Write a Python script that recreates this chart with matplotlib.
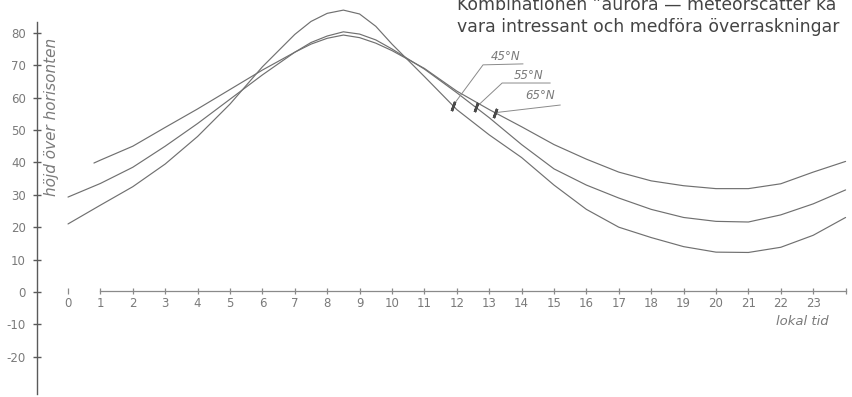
import numpy as np
import matplotlib
matplotlib.use('Agg')
import matplotlib.pyplot as plt

# local time (h) and elevation above horizon (deg)
hours_45 = [0, 1, 2, 3, 4, 5, 6, 7, 7.5, 8, 8.5, 9, 9.5, 10, 11, 12, 13, 14,
            15, 16, 17, 18, 19, 20, 21, 22, 23, 24]
elev_45 = [21, 26.8, 32.5, 39.5, 48, 58, 69.5, 79.5, 83.5, 86, 87, 85.8, 82,
           76.5, 66.5, 56.3, 48.5, 41.5, 33, 25.5, 20, 16.8, 14, 12.3, 12.2,
           13.8, 17.5, 23]

hours_55 = [0, 1, 2, 3, 4, 5, 6, 7, 7.5, 8, 8.5, 9, 9.5, 10, 11, 12, 13, 14,
            15, 16, 17, 18, 19, 20, 21, 22, 23, 24]
elev_55 = [29.3, 33.5, 38.5, 45, 52, 59.5, 67, 74, 77, 79, 80.3, 79.6, 77.8,
           75, 68.8, 61.5, 53.8, 45.5, 38, 33, 29, 25.5, 23, 21.8, 21.6, 23.8,
           27.2, 31.5]

hours_65 = [0.8, 1, 2, 3, 4, 5, 6, 7, 7.5, 8, 8.5, 9, 9.5, 10, 11, 12, 13, 14,
            15, 16, 17, 18, 19, 20, 21, 22, 23, 24]
elev_65 = [39.8, 40.7, 45, 50.8, 56.5, 62.5, 68.5, 74, 76.5, 78.3, 79.3, 78.5,
           76.8, 74.5, 69, 62, 56.3, 51, 45.5, 41, 37, 34.3, 32.8, 31.9, 31.9,
           33.4, 37, 40.3]

series = [('45°N', hours_45, elev_45),
          ('55°N', hours_55, elev_55),
          ('65°N', hours_65, elev_65)]

# where each label's leader touches its curve (hour)
label_hours = [11.88, 12.59, 13.18]

x_ticks = list(range(0, 24))
y_ticks = [-20, -10, 0, 10, 20, 30, 40, 50, 60, 70, 80]

line_col = '#707070'
txt_col = '#7a7a7a'

fig = plt.figure(figsize=(8.52, 3.97), dpi=100)
ax = fig.add_axes([0, 0, 1, 1])
ax.set_xlim(-2.099, 24.198)
ax.set_ylim(-32.41, 90.12)
ax.patch.set_alpha(0)

for name, h, v in series:
    ax.plot(h, v, color=line_col, lw=0.85, solid_capstyle='round')

# axes drawn like the hand-drawn original
for s in ['top', 'right']:
    ax.spines[s].set_visible(False)
ax.spines['left'].set_position(('data', -0.96))
ax.spines['left'].set_bounds(-31.5, 83.3)
ax.spines['left'].set_color('#5a5a5a')
ax.spines['left'].set_linewidth(1.0)
ax.spines['bottom'].set_position(('data', 0.3))
ax.spines['bottom'].set_bounds(1, 24)
ax.spines['bottom'].set_color('#8a8a8a')
ax.spines['bottom'].set_linewidth(0.9)

ax.set_yticks(y_ticks)
ax.set_yticklabels([str(t) for t in y_ticks])
ax.set_xticks(x_ticks + [24])
ax.set_xticklabels([str(t) for t in x_ticks] + [''])
ax.tick_params(axis='y', direction='inout', length=6, width=1.0,
               color='#5a5a5a', pad=5, labelsize=8.5, labelcolor=txt_col)
ax.tick_params(axis='x', direction='inout', length=5, width=0.9,
               color='#8a8a8a', pad=2, labelsize=8.5, labelcolor=txt_col)

ax.text(-0.5, 54, 'höjd över horisonten', rotation=90, style='italic',
        fontsize=11, color=txt_col, ha='center', va='center')
ax.text(22.65, -9.0, 'lokal tid', style='italic', fontsize=9.5,
        color=txt_col, ha='center', va='center')

# latitude labels with leader lines
leaders = [((12.81, 70.1), (14.04, 70.4), (13.5, 72.8)),
           ((13.40, 64.5), (14.88, 64.5), (14.22, 66.8)),
           ((15.19, 57.7), (15.19, 57.7), (14.57, 60.5))]
for (name, h, v), lh, (bend, end, tpos) in zip(series, label_hours, leaders):
    lv = np.interp(lh, h, v)
    ax.plot([lh, bend[0], end[0]], [lv, bend[1], end[1]], color='#8a8a8a',
            lw=0.7)
    ax.plot([lh], [lv], marker=(2, 2, -20), ms=7, mew=1.8, color='#4a4a4a')
    ax.text(tpos[0], tpos[1], name, style='italic', fontsize=8.5,
            color=txt_col, ha='center', va='center')

# text cut from the page above the chart
fig.text(457 / 852, 1 - 5 / 397, 'Kombinationen ”aurora — meteorscatter ka',
         family='DejaVu Sans', fontsize=12.4, color='#444444',
         ha='left', va='center')
fig.text(457 / 852, 1 - 27 / 397, 'vara intressant och medföra överraskningar',
         family='DejaVu Sans', fontsize=12.4, color='#444444',
         ha='left', va='center')

fig.savefig('out.png', dpi=100, facecolor='white')
